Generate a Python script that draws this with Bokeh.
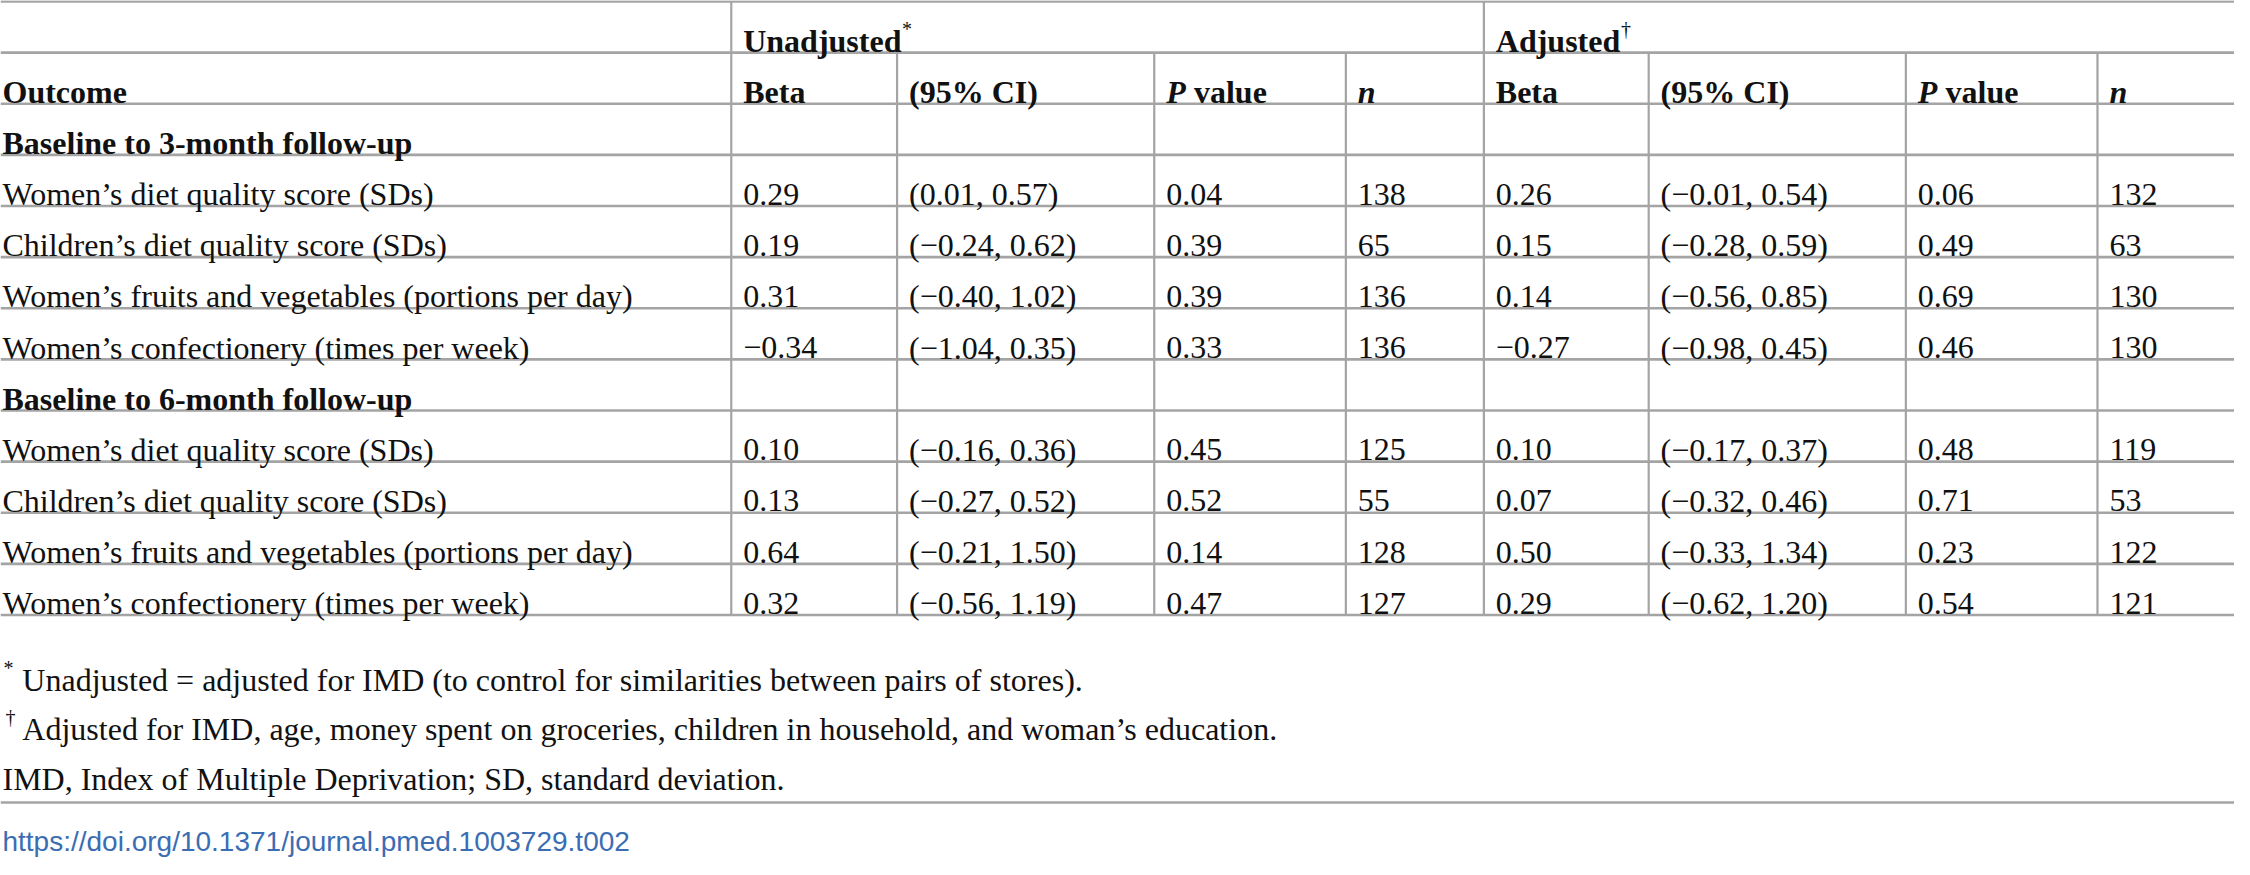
from bokeh.plotting import figure
from bokeh.models import Range1d, ColumnDataSource
from bokeh.core.properties import value
from bokeh.embed import file_html
from bokeh.resources import INLINE

# ---------------- data ----------------
sections = ["Baseline to 3-month follow-up", "Baseline to 6-month follow-up"]
outcomes = ["Women\u2019s diet quality score (SDs)",
            "Children\u2019s diet quality score (SDs)",
            "Women\u2019s fruits and vegetables (portions per day)",
            "Women\u2019s confectionery (times per week)"]
u_beta = [[0.29, 0.19, 0.31, -0.34], [0.10, 0.13, 0.64, 0.32]]
u_lo = [[0.01, -0.24, -0.40, -1.04], [-0.16, -0.27, -0.21, -0.56]]
u_hi = [[0.57, 0.62, 1.02, 0.35], [0.36, 0.52, 1.50, 1.19]]
u_p = [[0.04, 0.39, 0.39, 0.33], [0.45, 0.52, 0.14, 0.47]]
u_n = [[138, 65, 136, 136], [125, 55, 128, 127]]
a_beta = [[0.26, 0.15, 0.14, -0.27], [0.10, 0.07, 0.50, 0.29]]
a_lo = [[-0.01, -0.28, -0.56, -0.98], [-0.17, -0.32, -0.33, -0.62]]
a_hi = [[0.54, 0.59, 0.85, 0.45], [0.37, 0.46, 1.34, 1.20]]
a_p = [[0.06, 0.49, 0.69, 0.46], [0.48, 0.71, 0.23, 0.54]]
a_n = [[132, 63, 130, 130], [119, 53, 122, 121]]
group_headers = ["Unadjusted", "Adjusted"]
group_marks = ["*", "\u2020"]
col_headers = ["Beta", "(95% CI)", "P value", "n"]
footnotes = ["Unadjusted = adjusted for IMD (to control for similarities between pairs of stores).",
             "Adjusted for IMD, age, money spent on groceries, children in household, and woman\u2019s education.",
             "IMD, Index of Multiple Deprivation; SD, standard deviation."]
doi = "https://doi.org/10.1371/journal.pmed.1003729.t002"

# ---------------- layout ----------------
W, H = 2250, 875
col_left = [0, 736, 903, 1162, 1355, 1494, 1660, 1919, 2112]
TOP = 1
PITCH = 52.08
NROWS = 12
row_top = [TOP + PITCH * i for i in range(NROWS + 1)]
BASE = 40
PAD = 12
FONT = value("Liberation Serif")
FS = "32px"
TXT = "#111111"
LINE = "#a4a4a4"


def fmt(v):
    return f"{v:.2f}".replace("-", "\u2212")


p = figure(width=2234, height=859, x_range=Range1d(0, W), y_range=Range1d(H, 0),
           output_backend="svg", toolbar_location=None, min_border=0,
           x_axis_location=None, y_axis_location=None)
p.grid.visible = False
p.outline_line_color = None
p.background_fill_color = "white"
p.border_fill_color = "white"

# horizontal rules
hx0, hy0, hx1, hy1 = [], [], [], []
for y in row_top:
    hx0.append(0); hx1.append(W); hy0.append(y); hy1.append(y)
p.segment(hx0, hy0, hx1, hy1, line_color=LINE, line_width=2.6)
# footer rule
p.segment([0], [817], [W], [817], line_color=LINE, line_width=2.6)

# vertical rules
vx, vy0, vy1 = [], [], []
for i, x in enumerate(col_left[1:], start=1):
    vx.append(x)
    vy0.append(row_top[0] if i in (1, 5) else row_top[1])
    vy1.append(row_top[-1])
p.segment(vx, vy0, vx, vy1, line_color=LINE, line_width=2.2)


def txt(xs, ys, texts, style="normal", size=FS, color=TXT, font=FONT, yoff=0):
    src = ColumnDataSource(dict(x=xs, y=ys, t=texts))
    p.text(x="x", y="y", text="t", source=src, text_font=font, text_font_size=size,
           text_font_style=style, text_color=color, text_baseline="alphabetic",
           text_align="left", y_offset=yoff)


# group headers
gx = [col_left[1] + PAD, col_left[5] + PAD]
gy = [row_top[0] + BASE] * 2
txt(gx, gy, group_headers, style="bold")
txt([gx[0] + 160, gx[1] + 126], gy, group_marks, size="20px", yoff=-12)

# column headers
hy = row_top[1] + BASE
txt([2], [hy], ["Outcome"], style="bold")
bx, bt = [], []
for g in (0, 4):
    bx += [col_left[1 + g] + PAD, col_left[2 + g] + PAD]
    bt += [col_headers[0], col_headers[1]]
txt(bx, [hy] * len(bx), bt, style="bold")
px = [col_left[3] + PAD, col_left[7] + PAD]
txt(px, [hy] * 2, ["P", "P"], style="bold italic")
txt([x + 28 for x in px], [hy] * 2, [col_headers[2][2:]] * 2, style="bold")
txt([col_left[4] + PAD, col_left[8] + PAD], [hy] * 2, [col_headers[3]] * 2, style="bold italic")

# body
sx, sy, st = [], [], []
cx, cy, ct = [], [], []
r = 2
for s in range(2):
    sx.append(2); sy.append(row_top[r] + BASE); st.append(sections[s])
    r += 1
    for k in range(4):
        y = row_top[r] + BASE
        cells = [outcomes[k],
                 fmt(u_beta[s][k]), f"({fmt(u_lo[s][k])}, {fmt(u_hi[s][k])})", fmt(u_p[s][k]), str(u_n[s][k]),
                 fmt(a_beta[s][k]), f"({fmt(a_lo[s][k])}, {fmt(a_hi[s][k])})", fmt(a_p[s][k]), str(a_n[s][k])]
        for c, t in enumerate(cells):
            cx.append(2 if c == 0 else col_left[c] + PAD)
            cy.append(y)
            ct.append(t)
        r += 1
txt(sx, sy, st, style="bold")
txt(cx, cy, ct)

# footnotes
fy = [692, 742, 793]
txt([3, 5], [fy[0], fy[1]], group_marks, size="20px", yoff=-12)
txt([22, 22, 2], fy, footnotes)
txt([2], [857], [doi], color="#3b6db3", font=value("Liberation Sans"), size="28px")

open("out.html", "w").write(file_html(p, INLINE))
